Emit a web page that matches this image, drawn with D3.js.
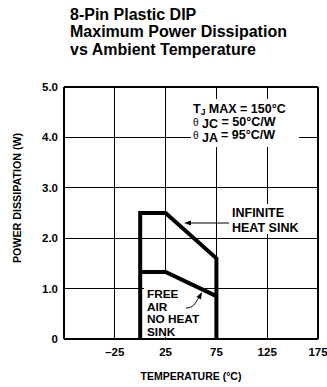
<!DOCTYPE html>
<html>
<head>
<meta charset="utf-8">
<script src="https://cdn.jsdelivr.net/npm/d3@7/dist/d3.min.js"></script>
<style>
  html, body { margin: 0; padding: 0; background: #fff; }
  svg text { font-family: "Liberation Sans", Arial, Helvetica, sans-serif; font-weight: bold; fill: #000; }
</style>
</head>
<body>
<svg id="chart" width="327" height="387"></svg>
<script>
// Title lines
const titleLines = ["8-Pin Plastic DIP", "Maximum Power Dissipation", "vs Ambient Temperature"];

// Axis ticks
const xTicks = [-25, 25, 75, 125, 175];
const xTickLabels = ["\u201325", "25", "75", "125", "175"];
const yTicks = [0, 1, 2, 3, 4, 5];
const yTickLabels = ["0", "1.0", "2.0", "3.0", "4.0", "5.0"];

// Derating curves (temperature °C, power W)
const infiniteTemp = [0, 0, 25, 75, 75];
const infinitePower = [0, 2.5, 2.5, 1.6, 0];
const freeAirTemp = [0, 25, 75];
const freeAirPower = [1.33, 1.33, 0.85];

const svg = d3.select("#chart");
const plotL = 64, plotR = 318, plotT = 87, plotB = 339;

const x = d3.scaleLinear().domain([-75, 175]).range([plotL, plotR]);
const y = d3.scaleLinear().domain([0, 5]).range([plotB, plotT]);

// Title
svg.append("g").selectAll("text").data(titleLines).join("text")
  .attr("x", 70).attr("y", (d, i) => 19.5 + i * 17.5)
  .style("font-size", "16px").text(d => d);

// Grid
const grid = svg.append("g").attr("stroke", "#000").attr("stroke-width", 1.1).attr("shape-rendering", "crispEdges");
grid.selectAll("line.h").data(yTicks).join("line")
  .attr("x1", plotL).attr("x2", plotR).attr("y1", d => y(d)).attr("y2", d => y(d));
grid.selectAll("line.v").data(xTicks).join("line")
  .attr("y1", plotT).attr("y2", plotB).attr("x1", d => x(d)).attr("x2", d => x(d));
grid.append("line").attr("x1", plotL).attr("x2", plotL).attr("y1", plotT).attr("y2", plotB);

// White panels behind the labels
const panels = svg.append("g").attr("fill", "#fff");
panels.append("rect").attr("x", 191).attr("y", 99).attr("width", 108).attr("height", 48);
panels.append("rect").attr("x", 229).attr("y", 204).attr("width", 76).attr("height", 30);
panels.append("rect").attr("x", 144).attr("y", 273).attr("width", 58).attr("height", 64);

// Curves
const line = d3.line().x(d => x(d[0])).y(d => y(d[1]));
svg.append("path")
  .datum(infiniteTemp.map((t, i) => [t, infinitePower[i]]))
  .attr("d", line).attr("fill", "none").attr("stroke", "#000")
  .attr("stroke-width", 4).attr("stroke-linejoin", "miter");
svg.append("path")
  .datum(freeAirTemp.map((t, i) => [t, freeAirPower[i]]))
  .attr("d", line).attr("fill", "none").attr("stroke", "#000")
  .attr("stroke-width", 4).attr("stroke-linejoin", "miter");

// Y tick labels
svg.append("g").selectAll("text").data(yTicks).join("text")
  .attr("x", 58).attr("y", d => y(d) + 4).attr("text-anchor", "end")
  .style("font-size", "11.5px").text((d, i) => yTickLabels[i]);

// X tick labels
svg.append("g").selectAll("text").data(xTicks).join("text")
  .attr("x", d => x(d)).attr("y", 356).attr("text-anchor", "middle")
  .style("font-size", "11.5px").text((d, i) => xTickLabels[i]);

// Axis titles
svg.append("text").attr("x", x(50)).attr("y", 380).attr("text-anchor", "middle")
  .style("font-size", "10.5px").text("TEMPERATURE (\u00B0C)");
svg.append("text").attr("transform", "translate(21,198) rotate(-90)")
  .attr("text-anchor", "middle").style("font-size", "10.7px").text("POWER DISSIPATION (W)");

// Thermal specs
const spec = svg.append("g").style("font-size", "12.5px");
const t1 = spec.append("text").attr("x", 193).attr("y", 113);
t1.append("tspan").text("T");
t1.append("tspan").attr("dy", 2).style("font-size", "8.5px").text("J");
t1.append("tspan").attr("dy", -2).text(" MAX = 150\u00B0C");
const t2 = spec.append("text").attr("x", 193).attr("y", 126);
t2.append("tspan").style("font-weight", "normal").style("font-size", "10px").text("\u03B8");
t2.append("tspan").attr("dy", 2).text(" JC");
t2.append("tspan").attr("dy", -2).text(" = 50\u00B0C/W");
const t3 = spec.append("text").attr("x", 193).attr("y", 139);
t3.append("tspan").style("font-weight", "normal").style("font-size", "10px").text("\u03B8");
t3.append("tspan").attr("dy", 3).text(" JA");
t3.append("tspan").attr("dy", -3).text(" = 95\u00B0C/W");

// Infinite heat sink label and arrow
svg.append("g").style("font-size", "12.5px").selectAll("text")
  .data(["INFINITE", "HEAT SINK"]).join("text")
  .attr("x", 232).attr("y", (d, i) => 217 + i * 14.5).text(d => d);
svg.append("line").attr("x1", 229).attr("x2", 188).attr("y1", 223).attr("y2", 223)
  .attr("stroke", "#000").attr("stroke-width", 1);
svg.append("path").attr("d", "M184,223 L191,220.5 L191,225.5 Z").attr("fill", "#000");

// Free air label and arrow
svg.append("g").style("font-size", "11.8px").selectAll("text")
  .data(["FREE", "AIR", "NO HEAT", "SINK"]).join("text")
  .attr("x", 147).attr("y", (d, i) => 298 + i * 12.5).text(d => d);
svg.append("path").attr("d", "M186,308 C193,308 195,304 199,297")
  .attr("fill", "none").attr("stroke", "#000").attr("stroke-width", 1);
svg.append("path").attr("d", "M202,292 L201,299.5 L196.5,297 Z").attr("fill", "#000");
</script>
</body>
</html>
